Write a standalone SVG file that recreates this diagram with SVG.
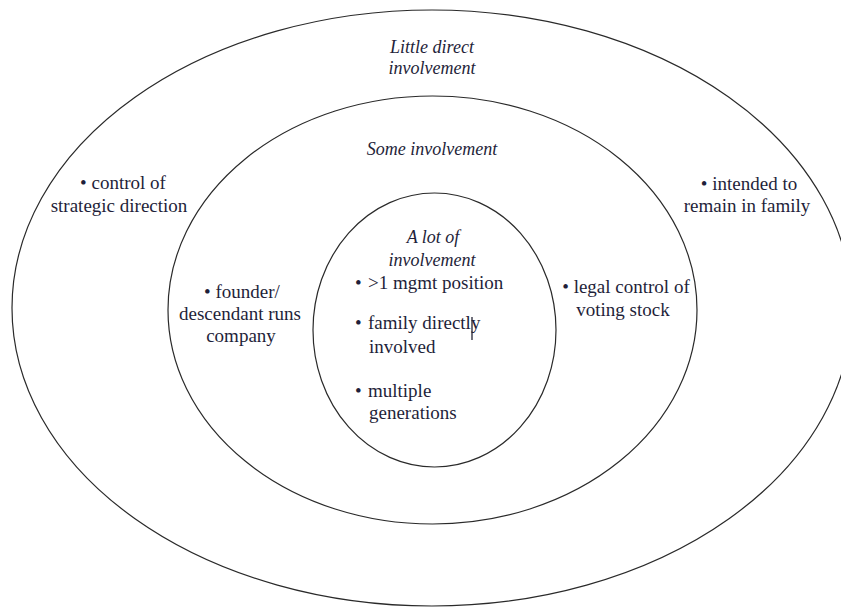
<svg xmlns="http://www.w3.org/2000/svg" width="841" height="607" viewBox="0 0 841 607">
<style>
.ring{fill:none;stroke:#2a2a2a;stroke-width:1.2}
.t{font-family:'Liberation Serif','Times New Roman','DejaVu Serif',serif;font-size:19px;fill:#1f1f3a}
.h{font-style:italic;text-anchor:middle;font-size:18px}
.c{text-anchor:middle}
</style>
<rect width="841" height="607" fill="#fff"/>
<g id="outer" class="t">
<ellipse class="ring" cx="432" cy="308" rx="420" ry="298"/>
<text class="h" x="432" y="53">Little direct</text>
<text class="h" x="432" y="74">involvement</text>
<text class="c" x="123" y="189">• control of</text>
<text class="c" x="119" y="212">strategic direction</text>
<text class="c" x="749" y="190">• intended to</text>
<text class="c" x="747" y="212">remain in family</text>
</g>
<g id="middle" class="t">
<ellipse class="ring" cx="432.5" cy="310" rx="264.5" ry="214"/>
<text class="h" x="432" y="155">Some involvement</text>
<text class="c" x="242" y="298">• founder/</text>
<text class="c" x="240" y="320">descendant runs</text>
<text class="c" x="241" y="342">company</text>
<text class="c" x="626" y="293">• legal control of</text>
<text class="c" x="623" y="316">voting stock</text>
</g>
<g id="inner" class="t">
<ellipse class="ring" cx="434.5" cy="330" rx="121.5" ry="137"/>
<text class="h" x="433" y="243">A lot of</text>
<text class="h" x="432" y="266">involvement</text>
<text x="355" y="289">•</text><text x="368" y="289">&gt;1 mgmt position</text>
<text x="355" y="329">•</text><text x="368" y="329">family directly</text>
<text x="369" y="353">involved</text>
<text x="355" y="397">•</text><text x="368" y="397">multiple</text>
<text x="369" y="419">generations</text>
<line x1="472" y1="317" x2="472" y2="340" stroke="#223" stroke-width="1.3"/>
</g>
<g id="connectors"/>
</svg>
